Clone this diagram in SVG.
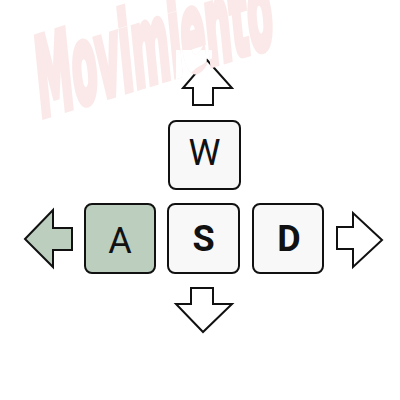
<svg xmlns="http://www.w3.org/2000/svg" xmlns:xlink="http://www.w3.org/1999/xlink" width="400" height="400" viewBox="0 0 400 400">
  <style>
    .key { stroke: #111; stroke-width: 2; }
    .key-plain { fill: #f8f8f8; }
    .key-active { fill: #bccfbf; }
    .label { font-family: Roboto, "Liberation Sans", sans-serif; font-size: 36px; fill: #111; text-anchor: middle; }
    .bold { font-weight: bold; }
    .arrow { stroke: #111; stroke-width: 2; stroke-linejoin: miter; }
    .watermark { font-family: "DejaVu Sans Condensed", "Liberation Sans Narrow", sans-serif; font-weight: bold; font-size: 108px; stroke-width: 7; stroke-linejoin: miter; }
  </style>
  <defs>
    <text id="wm-text" class="watermark" x="0" y="0" textLength="246" lengthAdjust="spacingAndGlyphs" transform="matrix(0.956 -0.292 0.1 0.995 40 117)">Movimiento</text>
    <clipPath id="up-head-clip">
      <polygon points="176,50 212,50 212,58 203,64 196,68 190,74 188,86 176,86"/>
    </clipPath>
  </defs>
  <rect width="400" height="400" fill="#fff"/>

  <g id="connectors">
    <polygon id="arrow-up" class="arrow" fill="#fff" points="207,60 232,88 213,88 213,105 193,105 193,88 183,88"/>
    <polygon id="arrow-left" class="arrow" fill="#bccfbf" points="25,239 53,210 53,228 72,228 72,250 53,250 53,267"/>
    <polygon id="arrow-right" class="arrow" fill="#fff" points="382,240 353,213 353,227 337,227 337,249 353,249 353,267"/>
    <polygon id="arrow-down" class="arrow" fill="#fff" points="203,332 176,304 191,304 191,288 213,288 213,304 232,304"/>
  </g>

  <g id="key-w">
    <rect class="key key-plain" x="169" y="121" width="71" height="68" rx="7"/>
    <text class="label" x="204.5" y="165">W</text>
  </g>
  <g id="key-a">
    <rect class="key key-active" x="85" y="204" width="70" height="69" rx="7"/>
    <text class="label" x="120" y="253">A</text>
  </g>
  <g id="key-s">
    <rect class="key key-plain" x="168" y="204" width="71" height="69" rx="7"/>
    <text class="label bold" x="203.5" y="251">S</text>
  </g>
  <g id="key-d">
    <rect class="key key-plain" x="253" y="204" width="70" height="69" rx="7"/>
    <text class="label bold" x="289" y="251">D</text>
  </g>

  <!-- faint title laid over the top; its letters knock out the arrow head outline -->
  <g id="watermark">
    <use xlink:href="#wm-text" fill="#fbe9e9" stroke="#fbe9e9"/>
    <use xlink:href="#wm-text" fill="#fff" stroke="#fff" clip-path="url(#up-head-clip)"/>
  </g>
</svg>
